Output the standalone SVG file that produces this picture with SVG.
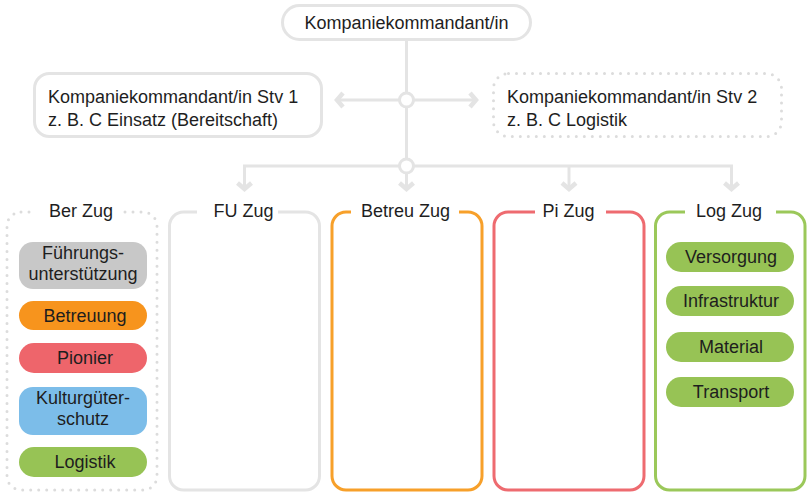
<svg xmlns="http://www.w3.org/2000/svg" width="807" height="493" viewBox="0 0 807 493">
<style>
text{font-family:"Liberation Sans",Arial,sans-serif;font-size:18px;fill:#1e1e1e}
.c{text-anchor:middle}
.box{fill:#fff;stroke:#e4e4e4;stroke-width:3}
.dot{fill:#fff;stroke:#dcdcdc;stroke-width:3;stroke-dasharray:0 8;stroke-linecap:round}
.ln{fill:none;stroke:#e4e4e4;stroke-width:3}
.node{fill:#fff;stroke:#e4e4e4;stroke-width:3}
.gap{fill:#fff}
.col{fill:none;stroke-width:3}
</style>
<defs>
<marker id="chev" viewBox="-12 -12 24 24" markerWidth="24" markerHeight="24" markerUnits="userSpaceOnUse" refX="0" refY="0" orient="auto-start-reverse" overflow="visible">
<path d="M-6,-7 L0,0 L-6,7" fill="none" stroke="#e4e4e4" stroke-width="4.5" stroke-linejoin="miter"/>
</marker>
</defs>
<g id="connectors">
<line class="ln" x1="406.5" y1="39" x2="406.5" y2="189" marker-end="url(#chev)"/>
<line class="ln" x1="337" y1="100" x2="476" y2="100" marker-start="url(#chev)" marker-end="url(#chev)"/>
<path class="ln" d="M244.5,189 V166 H731.5 V189" marker-start="url(#chev)" marker-end="url(#chev)"/>
<line class="ln" x1="569" y1="166" x2="569" y2="189" marker-end="url(#chev)"/>
<circle class="node" cx="406.5" cy="100" r="7"/>
<circle class="node" cx="406.5" cy="166" r="7"/>
</g>
<g id="kdt">
<rect class="box" x="282.5" y="5.5" width="248" height="34" rx="17"/>
<text class="c" x="406.5" y="28.5">Kompaniekommandant/in</text>
</g>
<g id="stv1">
<rect class="box" x="34.5" y="73.5" width="287" height="63" rx="15"/>
<text x="48" y="103">Kompaniekommandant/in Stv 1</text>
<text x="48" y="126">z. B. C Einsatz (Bereitschaft)</text>
</g>
<g id="stv2">
<rect class="dot" x="493.5" y="73.5" width="288" height="63" rx="15"/>
<text x="507" y="103">Kompaniekommandant/in Stv 2</text>
<text x="507" y="126">z. B. C Logistik</text>
</g>
<g id="berzug">
<rect class="dot" x="7" y="212" width="150" height="278" rx="14"/>
<rect class="gap" x="31" y="205" width="89" height="14"/>
<text class="c" x="81" y="217">Ber Zug</text>
<rect x="19" y="242" width="128" height="47" rx="14" fill="#c8c8c8"/>
<text class="c" x="83" y="258.5">Führungs-</text>
<text class="c" x="83" y="279.5">unterstützung</text>
<rect x="19" y="301" width="128" height="29" rx="14.5" fill="#f7941d"/>
<text class="c" x="85" y="321.5">Betreuung</text>
<rect x="19" y="343" width="128" height="30" rx="15" fill="#ee656b"/>
<text class="c" x="85" y="364">Pionier</text>
<rect x="19" y="387" width="128" height="48" rx="14" fill="#7cbde9"/>
<text class="c" x="83" y="404">Kulturgüter-</text>
<text class="c" x="83" y="425">schutz</text>
<rect x="19" y="447" width="128" height="30" rx="15" fill="#97c355"/>
<text class="c" x="85" y="468">Logistik</text>
</g>
<g id="fuzug">
<rect class="col" x="169.5" y="212" width="150" height="278" rx="14" stroke="#e4e4e4"/>
<rect class="gap" x="197" y="205" width="81" height="14"/>
<text class="c" x="243.5" y="217">FU Zug</text>
</g>
<g id="betreuzug">
<rect class="col" x="332" y="212" width="150" height="278" rx="14" stroke="#f7a02a"/>
<rect class="gap" x="351" y="205" width="108" height="14"/>
<text class="c" x="405.5" y="217">Betreu Zug</text>
</g>
<g id="pizug">
<rect class="col" x="494" y="212" width="150" height="278" rx="14" stroke="#ee6b70"/>
<rect class="gap" x="535" y="205" width="71" height="14"/>
<text class="c" x="568.5" y="217">Pi Zug</text>
</g>
<g id="logzug">
<rect class="col" x="655.5" y="212" width="149.5" height="278" rx="14" stroke="#9bc85a"/>
<rect class="gap" x="685" y="205" width="91" height="14"/>
<text class="c" x="729" y="217">Log Zug</text>
<rect x="666" y="242" width="128" height="30" rx="15" fill="#97c355"/>
<text class="c" x="731" y="263">Versorgung</text>
<rect x="666" y="286" width="128" height="30" rx="15" fill="#97c355"/>
<text class="c" x="731" y="307">Infrastruktur</text>
<rect x="666" y="332" width="128" height="30" rx="15" fill="#97c355"/>
<text class="c" x="731" y="353">Material</text>
<rect x="666" y="377" width="128" height="30" rx="15" fill="#97c355"/>
<text class="c" x="731" y="398">Transport</text>
</g>
</svg>
